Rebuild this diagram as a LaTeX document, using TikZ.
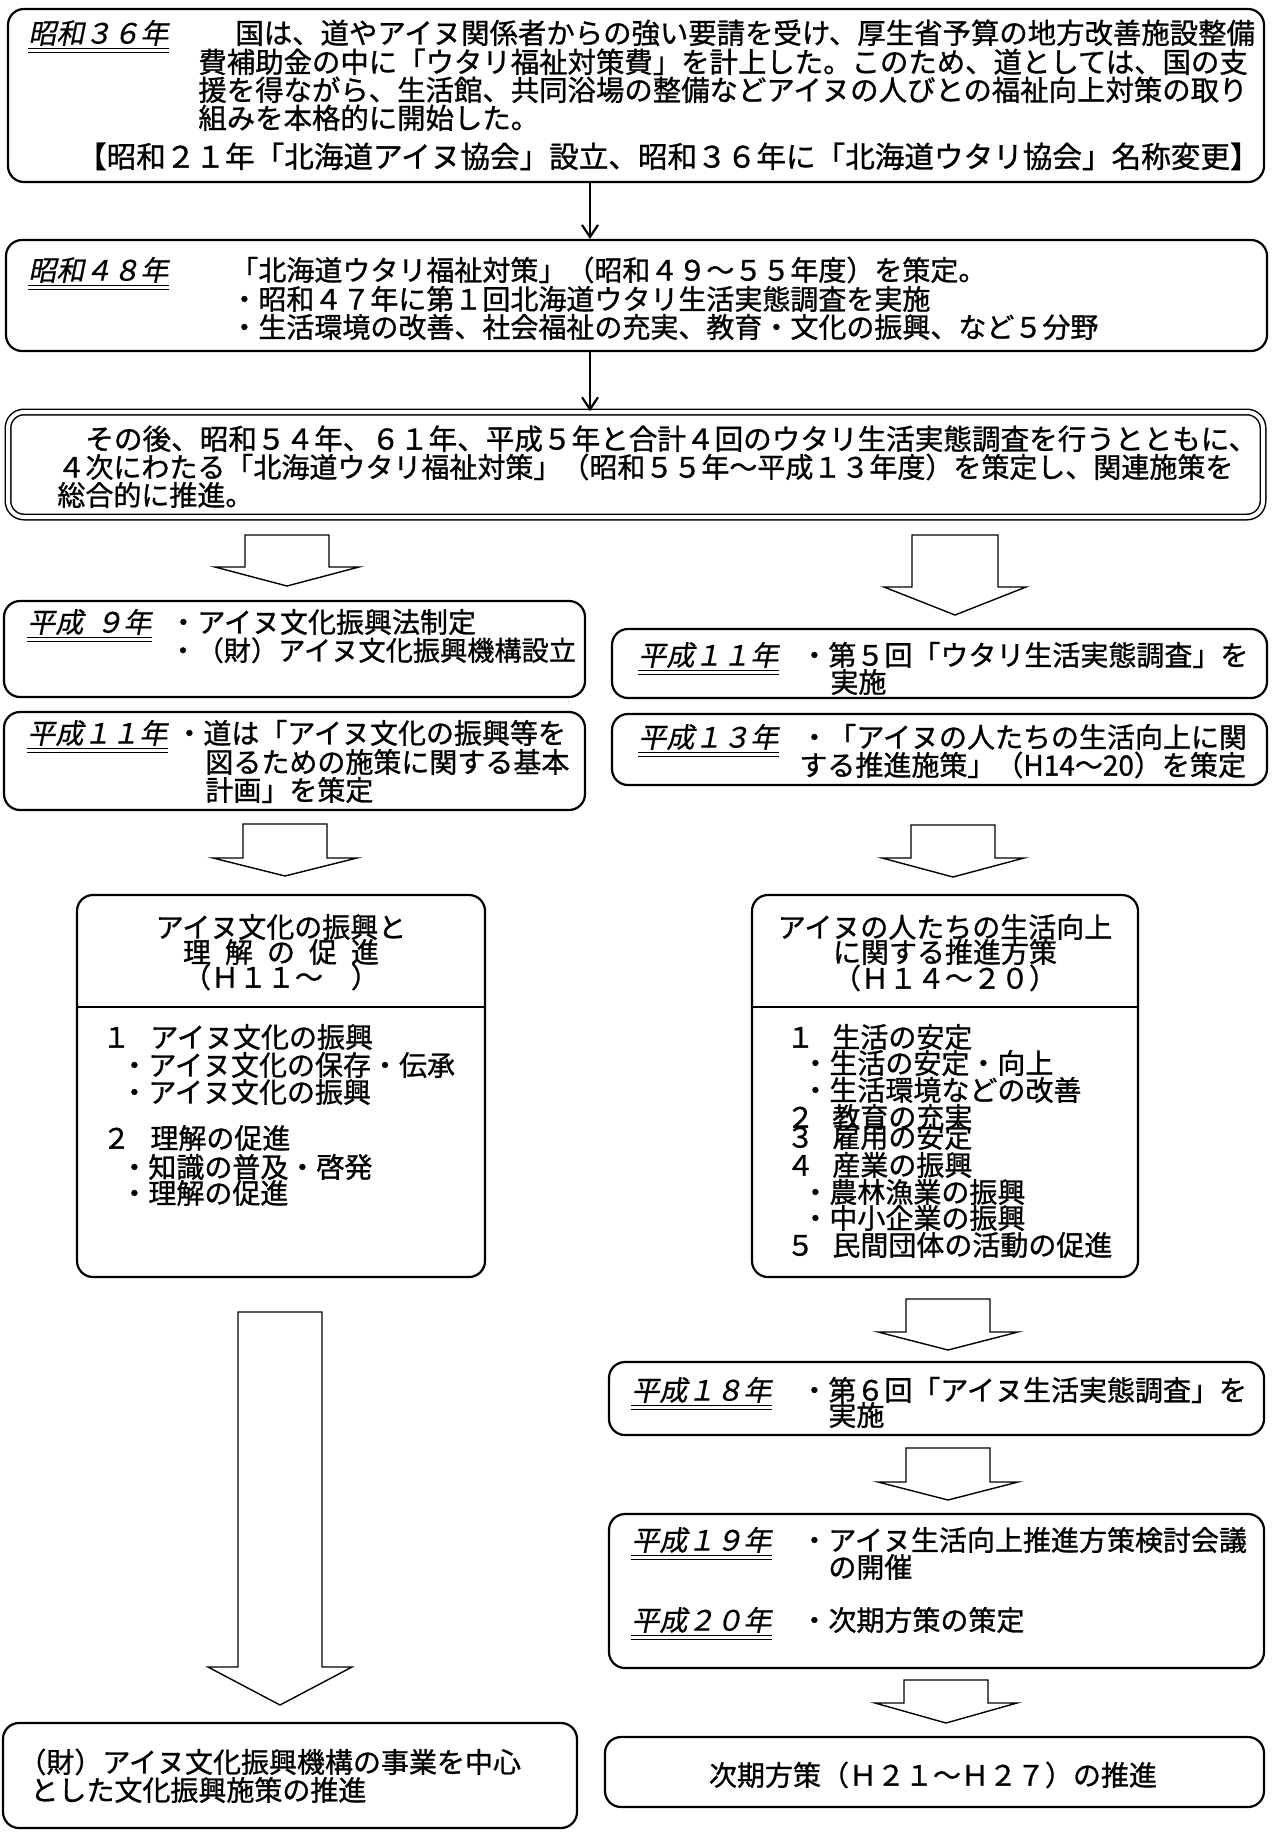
\documentclass[tikz,border=0pt]{standalone}
\usepackage{fontspec}
\newfontfamily\jp[FakeBold=1]{Noto Sans CJK JP}
\newfontfamily\jpl[FakeSlant=0.2,FakeBold=0.6]{Noto Sans CJK JP}
\usetikzlibrary{fit,arrows.meta,calc}
\tikzset{
  box/.style={draw, line width=1.1pt, rounded corners=8pt, inner sep=0pt},
  dbox/.style={draw, double, double distance=2pt, line width=0.75pt, rounded corners=8pt, inner sep=0pt},
  txt/.style={anchor=west, inner sep=0pt, text height=12.3pt, text depth=1.7pt, font=\jp\fontsize{14}{16}\selectfont},
  ctxt/.style={txt, anchor=center},
  lbl/.style={txt, font=\jpl\fontsize{14}{16}\selectfont},
  blk/.style={draw, line width=0.7pt, fill=white, line join=miter},
  thinarrow/.style={line width=1.1pt, -{Straight Barb[length=6pt,width=8pt]}},
  divline/.style={line width=1.1pt}
}
\newcommand\ulab[4]{%
  \node[lbl] (#1) at (#2,#3) {#4};
  \draw[line width=0.6pt] ([yshift=-0.5pt]#1.south west) -- ([yshift=-0.5pt]#1.south east);
  \draw[line width=0.6pt] ([yshift=-2.5pt]#1.south west) -- ([yshift=-2.5pt]#1.south east);}
\newcommand\blkarrow[7]{%
  \draw[blk] (#2-#6,#3) -- (#2+#6,#3) -- (#2+#6,#4) -- (#2+#7,#4) -- (#2,#5) coordinate (#1) -- (#2-#7,#4) -- (#2-#6,#4) -- cycle;}
\begin{document}
\begin{tikzpicture}[x=0.5pt,y=-0.5pt]
\useasboundingbox[fill=white] (0,0) rectangle (1271,1832);

% ---------- Box A ----------
\node[box, fit={(8,9) (1264,182)}] (A) {};
\ulab{a0}{28}{33}{昭和３６年}
\node[txt, font=\jp\fontsize{14.2}{16}\selectfont] (a1) at (235,33) {国は、道やアイヌ関係者からの強い要請を受け、厚生省予算の地方改善施設整備};
\node[txt, font=\jp\fontsize{14.2}{16}\selectfont] (a2) at (198,62) {費補助金の中に「ウタリ福祉対策費」を計上した。このため、道としては、国の支};
\node[txt, font=\jp\fontsize{14.2}{16}\selectfont] (a3) at (198,90) {援を得ながら、生活館、共同浴場の整備などアイヌの人びとの福祉向上対策の取り};
\node[txt, font=\jp\fontsize{14.2}{16}\selectfont] (a4) at (198,118) {組みを本格的に開始した。};
\node[txt, anchor=east, font=\jp\fontsize{14.8}{16}\selectfont] (a5) at (1260,157) {【昭和２１年「北海道アイヌ協会」設立、昭和３６年に「北海道ウタリ協会」名称変更】};

% ---------- Box B ----------
\node[box, fit={(6,240) (1267,351)}] (B) {};
\ulab{b0}{28}{270}{昭和４８年}
\node[txt] (b1) at (230,270) {「北海道ウタリ福祉対策」（昭和４９～５５年度）を策定。};
\node[txt] (b2) at (230,299) {・昭和４７年に第１回北海道ウタリ生活実態調査を実施};
\node[txt] (b3) at (230,327) {・生活環境の改善、社会福祉の充実、教育・文化の振興、など５分野};

% ---------- Box C ----------
\node[dbox, fit={(8,412) (1263,517)}] (C) {};
\node[txt, font=\jp\fontsize{14.3}{16}\selectfont] (c1) at (85,439) {その後、昭和５４年、６１年、平成５年と合計４回のウタリ生活実態調査を行うとともに、};
\node[txt] (c2) at (57,467) {４次にわたる「北海道ウタリ福祉対策」（昭和５５年～平成１３年度）を策定し、関連施策を};
\node[txt] (c3) at (57,495) {総合的に推進。};

\coordinate (ax) at (590,0);
\draw[thinarrow] (A.south -| ax) -- (B.north -| ax);
\draw[thinarrow] (B.south -| ax) -- (C.north -| ax);

% ---------- block arrows row 1 ----------
\blkarrow{t1}{287}{535}{567}{586}{42}{72}
\blkarrow{t2}{955}{535}{587}{615}{43}{71}

% ---------- left small boxes ----------
\node[box, fit={(4,601) (585,697)}] (L1) {};
\ulab{l1l}{27}{622}{平成\hspace{6pt}９年}
\node[txt] (l1a) at (169,622) {・アイヌ文化振興法制定};
\node[txt, font=\jp\fontsize{13.6}{16}\selectfont] (l1b) at (169,650) {・（財）アイヌ文化振興機構設立};

\node[box, fit={(4,712) (585,810)}] (L2) {};
\ulab{l2l}{27}{733}{平成１１年}
\node[txt] (l2a) at (175,733) {・道は「アイヌ文化の振興等を};
\node[txt] (l2b) at (205,762) {図るための施策に関する基本};
\node[txt] (l2c) at (205,790) {計画」を策定};

% ---------- right small boxes ----------
\node[box, fit={(612,629) (1267,698)}] (R1) {};
\ulab{r1l}{638}{655}{平成１１年}
\node[txt] (r1a) at (800,655) {・第５回「ウタリ生活実態調査」を};
\node[txt] (r1b) at (830,682) {実施};

\node[box, fit={(612,714) (1267,785)}] (R2) {};
\ulab{r2l}{638}{737}{平成１３年}
\node[txt] (r2a) at (800,737) {・「アイヌの人たちの生活向上に関};
\node[txt] (r2b) at (799,765) {する推進施策」（H14～20）を策定};

% ---------- block arrows row 2 ----------
\blkarrow{t3}{285}{824}{858}{876}{42}{72}
\blkarrow{t4}{953}{825}{858}{877}{42}{71}

% ---------- left big box ----------
\node[box, fit={(77,895) (485,1277)}] (LB) {};
\coordinate (dv) at (0,1007);
\draw[divline] (LB.west |- dv) -- (LB.east |- dv);
\node[ctxt] (lt1) at (281,927) {アイヌ文化の振興と};
\node[ctxt] (lt2) at (281,952) {理\hspace{7pt}解\hspace{7pt}の\hspace{7pt}促\hspace{7pt}進};
\node[ctxt] (lt3) at (281,977) {（Ｈ１１～　）};
\node[txt] (lb1) at (102,1037) {\makebox[24pt][l]{１}アイヌ文化の振興};
\node[txt] (lb2) at (120,1065) {・アイヌ文化の保存・伝承};
\node[txt] (lb3) at (120,1092) {・アイヌ文化の振興};
\node[txt] (lb4) at (102,1138) {\makebox[24pt][l]{２}理解の促進};
\node[txt] (lb5) at (120,1167) {・知識の普及・啓発};
\node[txt] (lb6) at (120,1193) {・理解の促進};

% ---------- right big box ----------
\node[box, fit={(752,895) (1138,1277)}] (RB) {};
\draw[divline] (RB.west |- dv) -- (RB.east |- dv);
\node[ctxt] (rt1) at (945,927) {アイヌの人たちの生活向上};
\node[ctxt] (rt2) at (945,952) {に関する推進方策};
\node[ctxt] (rt3) at (945,978) {（Ｈ１４～２０）};
\node[txt] (rb1) at (786,1037) {\makebox[23pt][l]{１}生活の安定};
\node[txt] (rb2) at (801,1063) {・生活の安定・向上};
\node[txt] (rb3) at (801,1090) {・生活環境などの改善};
\node[txt] (rb4) at (786,1117) {\makebox[23pt][l]{２}教育の充実};
\node[txt] (rb5) at (786,1137) {\makebox[23pt][l]{３}雇用の安定};
\node[txt] (rb6) at (786,1165) {\makebox[23pt][l]{４}産業の振興};
\node[txt] (rb7) at (801,1192) {・農林漁業の振興};
\node[txt] (rb8) at (801,1218) {・中小企業の振興};
\node[txt] (rb9) at (786,1245) {\makebox[23pt][l]{５}民間団体の活動の促進};

% ---------- lower arrows & boxes ----------
\blkarrow{t5}{280}{1312}{1667}{1705}{42}{72}
\blkarrow{t6}{948}{1299}{1332}{1350}{42}{70}

\node[box, fit={(609,1362) (1264,1435)}] (R3) {};
\ulab{r3l}{631}{1390}{平成１８年}
\node[txt] (r3a) at (800,1390) {・第６回「アイヌ生活実態調査」を};
\node[txt] (r3b) at (828,1415) {実施};

\blkarrow{t7}{948}{1448}{1482}{1500}{42}{70}

\node[box, fit={(609,1514) (1264,1668)}] (R4) {};
\ulab{r4l}{631}{1540}{平成１９年}
\node[txt] (r4a) at (800,1540) {・アイヌ生活向上推進方策検討会議};
\node[txt] (r4b) at (828,1567) {の開催};
\ulab{r4m}{631}{1620}{平成２０年}
\node[txt] (r4c) at (800,1620) {・次期方策の策定};

\blkarrow{t8}{946}{1680}{1703}{1723}{42}{71}

\node[box, fit={(605,1737) (1264,1807)}] (R5) {};
\node[ctxt] (r5t) at (933,1775) {次期方策（Ｈ２１～Ｈ２７）の推進};

\node[box, fit={(3,1723) (577,1828)}] (LB2) {};
\node[txt] (lc1) at (18,1762) {（財）アイヌ文化振興機構の事業を中心};
\node[txt] (lc2) at (30,1790) {とした文化振興施策の推進};
\end{tikzpicture}
\end{document}
